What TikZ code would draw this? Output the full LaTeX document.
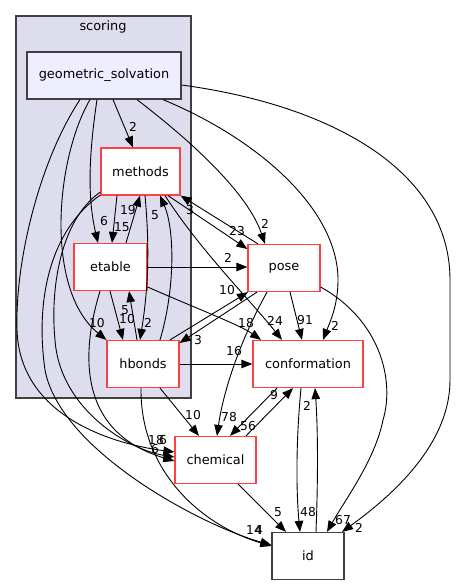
\documentclass[tikz,border=0pt]{standalone}
\usepackage{fontspec}
\setmainfont{DejaVu Sans}
\usetikzlibrary{arrows.meta}
\definecolor{dxred}{RGB}{255,64,64}
\definecolor{dxgray}{RGB}{64,64,64}
\definecolor{clusterfill}{RGB}{221,221,238}
\definecolor{gsfill}{RGB}{238,238,255}
\begin{document}
\begin{tikzpicture}[x=1pt,y=-1pt,
  dirbox/.style={draw=dxred, line width=1.2pt, fill=white, minimum height=47pt, inner sep=0pt, font=\fontsize{12.9}{15}\selectfont},
  plainbox/.style={draw=dxgray, line width=1.2pt, fill=white, minimum height=47pt, inner sep=0pt, font=\fontsize{12.9}{15}\selectfont},
  edge/.style={draw=black, line width=0.9pt, -{Triangle[length=11pt,width=8.5pt]}},
  lab/.style={font=\fontsize{12.3}{14}\selectfont, inner sep=0pt}]
\useasboundingbox (0,0) rectangle (456,585);
% cluster
\node[draw=dxgray, fill=clusterfill, line width=1.2pt, minimum width=175pt, minimum height=382pt, inner sep=0pt] (scoring) at (103.5,207) {};
\node[font=\fontsize{12.9}{15}\selectfont, inner sep=0pt] (scoringlabel) at (103,27) {scoring};
% nodes
\node[plainbox, fill=gsfill, minimum width=154pt] (gs) at (104,75.5) {geometric\_solvation};
\node[dirbox, minimum width=79pt] (methods) at (140.5,171.5) {methods};
\node[dirbox, minimum width=73pt] (etable) at (110.5,267) {etable};
\node[dirbox, minimum width=72pt] (hbonds) at (143,364) {hbonds};
\node[dirbox, minimum width=72pt] (pose) at (284,268) {pose};
\node[dirbox, minimum width=110pt] (conformation) at (308,364) {conformation};
\node[dirbox, minimum width=81pt] (chemical) at (215.5,460) {chemical};
\node[plainbox, minimum width=72pt] (id) at (308,556) {id};
% edges from geometric_solvation
\draw[edge] (gs.south -| 113,0) -- (methods.north -| 133,0) node[lab] at (133,127) {2};
\draw[edge] (gs.south -| 137,0) .. controls (170,125) and (245,185) .. (pose.north -| 265,0) node[lab] at (265,224) {2};
\draw[edge] (gs.south -| 163,0) .. controls (260,140) and (338,210) .. (338,280) .. controls (338,305) and (330,322) .. (conformation.north -| 323,0) node[lab] at (335,326) {2};
\draw[edge] (gs.east |- 0,85) .. controls (330,105) and (450,170) .. (450,280) -- (450,380) .. controls (450,440) and (400,490) .. (id.north -| 342,0) node[lab] at (359,528) {2};
\draw[edge] (gs.south -| 97,0) .. controls (88,160) and (88,200) .. (etable.north -| 98,0) node[lab] at (104,221) {6};
\draw[edge] (gs.south -| 90,0) .. controls (55,160) and (45,290) .. (hbonds.north west) node[lab] at (97,323) {10};
\draw[edge] (gs.south -| 80,0) .. controls (40,160) and (15,260) .. (17,330) .. controls (20,420) and (120,445) .. (chemical.west |- 0,452) node[lab] at (156,440) {18};
% edges from methods
\draw[edge] (methods.south -| 117,0) -- (etable.north -| 112,0) node[lab] at (122,227) {15};
\draw[edge] (methods.south -| 145,0) .. controls (150,250) and (148,290) .. (hbonds.north -| 140,0) node[lab] at (148,323) {2};
\draw[edge] (methods.south -| 168,0) -- (pose.west |- 0,249) node[lab] at (237,231) {23};
\draw[edge] (methods.south -| 165,0) .. controls (200,250) and (250,300) .. (conformation.north -| 282,0) node[lab] at (275,321) {24};
\draw[edge] (methods.west |- 0,192) .. controls (60,220) and (50,290) .. (55,340) .. controls (60,410) and (130,450) .. (chemical.west |- 0,457) node[lab] at (163,440) {6};
\draw[edge] (methods.west |- 0,195) .. controls (50,230) and (35,300) .. (45,370) .. controls (60,450) and (200,525) .. (id.west |- 0,545) node[lab] at (254,530) {14};
% edges from etable
\draw[edge] (etable.north -| 126,0) -- (methods.south -| 140,0) node[lab] at (128,210) {19};
\draw[edge] (etable.east |- 0,267) -- (pose.west |- 0,267) node[lab] at (228,258) {2};
\draw[edge] (etable.south -| 110,0) -- (hbonds.north -| 123,0) node[lab] at (127,319) {10};
\draw[edge] (etable.east |- 0,287) .. controls (200,310) and (240,325) .. (conformation.north -| 261,0) node[lab] at (246,323) {18};
\draw[edge] (etable.south -| 100,0) .. controls (85,340) and (70,430) .. (chemical.west |- 0,461) node[lab] at (155,449) {6};
% edges from hbonds
\draw[edge] (hbonds.north -| 160,0) .. controls (175,290) and (175,230) .. (methods.south -| 160,0) node[lab] at (155,215) {5};
\draw[edge] (hbonds.north -| 137,0) -- (etable.south -| 129,0) node[lab] at (125,310) {5};
\draw[edge] (hbonds.north -| 170,0) -- (pose.south -| 248,0) node[lab] at (227,290) {10};
\draw[edge] (hbonds.east |- 0,364) -- (conformation.west |- 0,364) node[lab] at (234,351) {16};
\draw[edge] (hbonds.south -| 160,0) -- (chemical.north -| 199,0) node[lab] at (193,415) {10};
\draw[edge] (hbonds.south -| 141,0) .. controls (140,470) and (200,525) .. (id.west |- 0,546) node[lab] at (259,530) {4};
% edges from pose
\draw[edge] (pose.north -| 258,0) -- (methods.south east) node[lab] at (190,210) {3};
\draw[edge] (pose.south -| 257,0) -- (hbonds.east |- 0,343) node[lab] at (198,340) {3};
\draw[edge] (pose.south -| 290,0) -- (conformation.north -| 302,0) node[lab] at (305,320) {91};
\draw[edge] (pose.south -| 267,0) .. controls (235,350) and (222,400) .. (chemical.north -| 217,0) node[lab] at (229,417) {78};
\draw[edge] (pose.east |- 0,287) .. controls (380,320) and (395,380) .. (383,420) .. controls (375,460) and (345,500) .. (id.north -| 327,0) node[lab] at (343,520) {67};
% edges from conformation
\draw[edge] (conformation.south -| 277,0) -- (chemical.north -| 230,0) node[lab] at (248,426) {56};
\draw[edge] (conformation.south -| 301,0) .. controls (296,440) and (296,490) .. (id.north -| 300,0) node[lab] at (308,512) {48};
% edges from chemical
\draw[edge] (chemical.north -| 246,0) -- (conformation.south -| 293,0) node[lab] at (274,395) {9};
\draw[edge] (chemical.south -| 238,0) -- (id.north -| 286,0) node[lab] at (278,512) {5};
% edge from id
\draw[edge] (id.north -| 316,0) .. controls (318,480) and (318,430) .. (conformation.south -| 315,0) node[lab] at (307,406) {2};
\end{tikzpicture}
\end{document}
